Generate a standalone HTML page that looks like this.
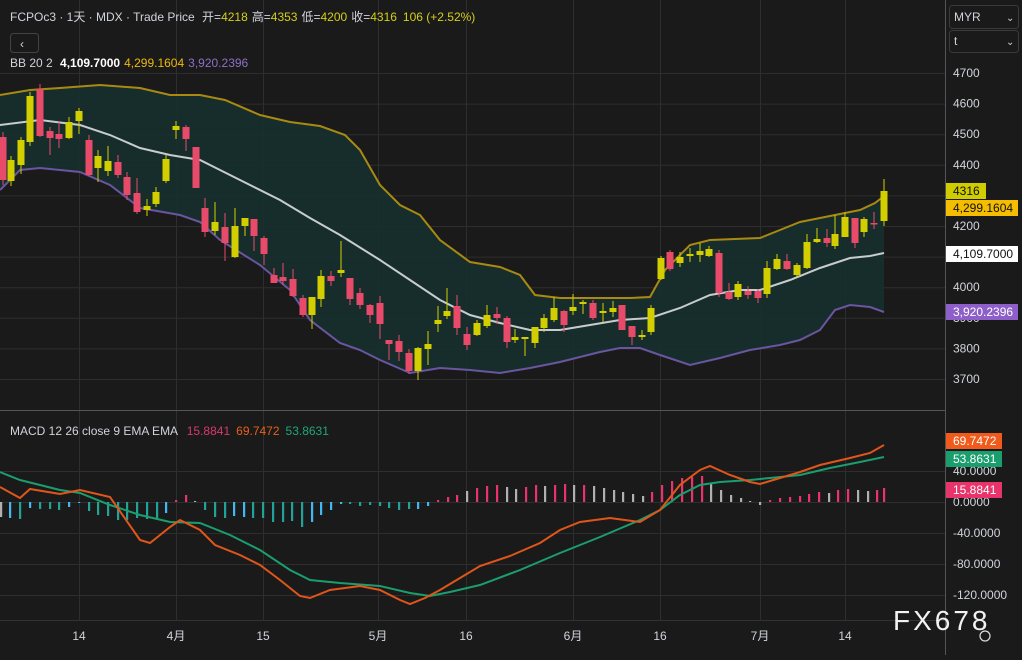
<!DOCTYPE html>
<html><head><meta charset="utf-8"><style>
body{margin:0;background:#1a1a1a;width:1022px;height:655px;overflow:hidden;font-family:"Liberation Sans","Noto Sans CJK SC",sans-serif}
svg text{font-family:"Liberation Sans","Noto Sans CJK SC",sans-serif}
</style></head><body>
<svg id="s" width="1022" height="655" xmlns="http://www.w3.org/2000/svg">
<rect width="1022" height="655" fill="#1a1a1a"/>
<g id="grid" stroke="#2e2e2e" stroke-width="1"></g>
<path id="fill" fill="#17302f" opacity="0.9"/>
<g id="bands" fill="none" stroke-width="2"></g>
<g id="candles"></g>
<g id="hist"></g>
<g id="macd" fill="none" stroke-width="2"></g>
<line x1="945.5" y1="0" x2="945.5" y2="655" stroke="#555"/>
<line x1="0" y1="410.5" x2="945" y2="410.5" stroke="#555"/>
<line x1="0" y1="620.5" x2="945" y2="620.5" stroke="#333"/>
<g id="axis" font-size="12" fill="#d1d4dc"></g>
<text x="10" y="21" font-size="12" fill="#d1d4dc">FCPOc3 · 1天 · MDX · Trade Price <tspan dx="4">开=</tspan><tspan fill="#d4cf1c">4218</tspan><tspan dx="4">高=</tspan><tspan fill="#d4cf1c">4353</tspan><tspan dx="4">低=</tspan><tspan fill="#d4cf1c">4200</tspan><tspan dx="4">收=</tspan><tspan fill="#d4cf1c">4316</tspan><tspan dx="6" fill="#d4cf1c">106 (+2.52%)</tspan></text>
<rect x="10.5" y="33.5" width="28" height="19" rx="3" fill="#1a1a1a" stroke="#444"/>
<text x="20" y="48" font-size="12" fill="#d1d4dc">‹</text>
<text x="10" y="67" font-size="12" fill="#d1d4dc">BB 20 2 <tspan dx="4" fill="#fff" font-weight="bold">4,109.7000</tspan><tspan dx="4" fill="#f0b90b">4,299.1604</tspan><tspan dx="4" fill="#8e6fc8">3,920.2396</tspan></text>
<text x="10" y="435" font-size="12" fill="#d1d4dc">MACD 12 26 close 9 EMA EMA <tspan dx="6" fill="#d83a6a">15.8841</tspan><tspan dx="6" fill="#e8601c">69.7472</tspan><tspan dx="6" fill="#1fa67a">53.8631</tspan></text>
<rect x="949.5" y="5.5" width="69" height="23" rx="3" fill="#1a1a1a" stroke="#3a3a3a"/>
<text x="954" y="21" font-size="12" fill="#d1d4dc">MYR</text><text x="1006" y="21" font-size="10" fill="#d1d4dc">⌄</text>
<rect x="949.5" y="30.5" width="69" height="22" rx="3" fill="#1a1a1a" stroke="#3a3a3a"/>
<text x="954" y="45" font-size="12" fill="#d1d4dc">t</text><text x="1006" y="45" font-size="10" fill="#d1d4dc">⌄</text>
<text x="893" y="630" font-size="28" fill="#f2f2f2" letter-spacing="3">FX678</text>
<circle cx="985" cy="636" r="5" fill="none" stroke="#ddd" stroke-width="1.2"/>
</svg>
<script>
const NS="http://www.w3.org/2000/svg";
function el(p,t,a,txt){const e=document.createElementNS(NS,t);for(const k in a)e.setAttribute(k,a[k]);if(txt!=null)e.textContent=txt;document.getElementById(p).appendChild(e);return e;}
const py=p=>73+(4700-p)*0.306;
// grid
for(let p=3700;p<=4700;p+=100)el('grid','line',{x1:0,x2:945,y1:py(p)+.5,y2:py(p)+.5});
[471,502,533,564,595].forEach(y=>el('grid','line',{x1:0,x2:945,y1:y+.5,y2:y+.5}));
const tx=[[79,"14"],[176,"4月"],[263,"15"],[378,"5月"],[466,"16"],[573,"6月"],[660,"16"],[760,"7月"],[845,"14"]];
tx.forEach(([x,t])=>{el('grid','line',{x1:x+.5,x2:x+.5,y1:0,y2:620});el('axis','text',{x:x,y:640,'text-anchor':'middle'},t);});
// axis labels
[4700,4600,4500,4400,4200,4000,3900,3800,3700].forEach(p=>el('axis','text',{x:953,y:py(p)+4},String(p)));
[[471,"40.0000"],[502,"0.0000"],[533,"-40.0000"],[564,"-80.0000"],[595,"-120.0000"]].forEach(([y,t])=>el('axis','text',{x:953,y:y+4},t));
function tag(y,w,bg,fg,t){el('axis','rect',{x:946,y:y,width:w,height:16,fill:bg});el('axis','text',{x:953,y:y+12,fill:fg},t);}
tag(183,40,"#cfcc00","#111","4316");
tag(200,72,"#f5bd00","#111","4,299.1604");
tag(246,72,"#ffffff","#111","4,109.7000");
tag(304,72,"#8e5fc8","#fff","3,920.2396");
tag(433,56,"#f05a1a","#fff","69.7472");
tag(451,56,"#1a9e6e","#fff","53.8631");
tag(482,56,"#e8336b","#fff","15.8841");
// bands
const up=[[0,95],[30,90],[60,88],[100,85],[140,88],[170,95],[200,95],[225,100],[260,115],[290,122],[320,126],[345,135],[360,150],[380,185],[400,205],[420,215],[440,240],[470,262],[500,267],[520,275],[535,295],[560,298],[600,298],[630,298],[650,297],[665,270],[690,245],[710,240],[760,238],[780,230],[800,222],[830,216],[860,210],[875,203],[884,196]];
const mid=[[0,125],[40,120],[80,125],[110,135],[140,148],[170,155],[200,160],[220,170],[250,185],[280,200],[310,218],[340,235],[380,260],[410,280],[440,300],[470,315],[500,323],[530,330],[560,330],[590,325],[620,320],[650,318],[680,308],[710,295],[740,290],[760,290],[790,280],[820,268],[850,258],[870,256],[884,253]];
const lo=[[0,190],[20,170],[40,168],[80,172],[110,185],[140,208],[180,215],[200,222],[220,240],[260,265],[290,290],[310,320],[340,343],[360,350],[380,360],[410,373],[440,368],[470,370],[500,373],[530,368],[560,362],[600,352],[620,348],[640,348],[660,355],[690,365],[720,358],[750,350],[780,345],[800,340],[820,330],[835,310],[850,305],[870,307],[884,312]];
const pts=a=>a.map(p=>p.join(',')).join(' ');
document.getElementById('fill').setAttribute('d','M'+pts(up)+' L'+pts(lo.slice().reverse())+'Z');
el('bands','polyline',{points:pts(up),stroke:"#a88a12"});
el('bands','polyline',{points:pts(mid),stroke:"#c8cccc"});
el('bands','polyline',{points:pts(lo),stroke:"#6a55a0"});
// candles [x,U/D,bt,bb,wt,wb]
const C=[[3,'D',137,180,132,185],[11,'U',160,181,156,186],[21,'U',140,165,137,174],[30,'U',96,142,92,146],[40,'D',89,136,84,137],[50,'D',131,138,127,155],[59,'D',134,139,121,148],[69,'U',122,138,117,139],[79,'U',111,121,108,134],[89,'D',140,175,135,176],[98,'U',156,168,150,182],[108,'U',161,171,146,176],[118,'D',162,175,155,178],[127,'D',177,195,172,200],[137,'D',193,212,178,214],[147,'U',206,210,199,216],[156,'U',192,204,187,207],[166,'U',159,181,155,183],[176,'U',126,130,121,139],[186,'D',127,139,125,151],[196,'D',147,188,147,188],[205,'D',208,232,198,237],[215,'U',222,231,202,235],[225,'D',227,243,213,261],[235,'U',226,257,208,258],[245,'U',218,226,218,236],[254,'D',219,236,219,251],[264,'D',238,254,236,265],[274,'D',275,283,268,283],[283,'D',277,281,263,285],[293,'D',279,296,269,297],[303,'D',298,315,295,317],[312,'U',297,315,297,329],[321,'U',276,299,270,307],[331,'D',276,281,271,286],[341,'U',270,273,241,277],[350,'D',278,299,278,305],[360,'D',293,305,288,309],[370,'D',305,315,304,323],[380,'D',303,324,296,339],[389,'D',340,344,340,360],[399,'D',341,352,335,361],[409,'D',353,371,349,374],[418,'U',348,371,347,380],[428,'U',344,349,331,365],[438,'U',320,324,306,332],[447,'U',311,316,288,319],[457,'D',306,328,295,335],[467,'D',334,345,327,350],[477,'U',323,335,320,336],[487,'U',315,326,305,328],[497,'D',314,318,307,324],[507,'D',318,342,316,348],[515,'U',337,340,329,343],[525,'U',337,339,338,356],[535,'U',327,343,327,348],[544,'U',318,328,314,332],[554,'U',308,320,297,322],[564,'D',311,325,310,332],[573,'U',307,311,294,315],[583,'U',302,304,300,314],[593,'D',303,318,300,320],[603,'U',311,313,303,322],[613,'U',308,312,301,317],[622,'D',305,330,305,330],[632,'D',326,337,326,345],[642,'U',335,337,330,340],[651,'U',308,332,305,335],[661,'U',258,279,256,280],[670,'D',252,269,250,271],[680,'U',257,263,252,267],[690,'U',254,256,248,262],[700,'U',251,255,243,262],[709,'U',249,256,246,257],[719,'D',253,293,250,297],[729,'D',292,299,283,300],[738,'U',284,297,281,300],[748,'D',291,295,286,299],[758,'D',291,298,289,303],[767,'U',268,294,261,298],[777,'U',259,269,254,270],[787,'D',261,269,254,270],[797,'U',265,275,263,277],[807,'U',242,268,234,269],[817,'U',239,242,228,243],[827,'D',238,243,229,247],[835,'U',234,246,215,249],[845,'U',217,237,212,237],[855,'D',218,243,218,248],[864,'U',219,232,217,237],[874,'D',223,224,212,229],[884,'U',191,221,179,226]];
C.forEach(([x,t,bt,bb,wt,wb])=>{const c=t=='U'?"#d2ce00":"#e84a6a";
el('candles','line',{x1:x,x2:x,y1:wt,y2:wb,stroke:c,'stroke-width':1});
el('candles','rect',{x:x-3.5,y:bt,width:7,height:Math.max(1.5,bb-bt),fill:c});});
// histogram: [x,y_end,color]
const T="#22a39a",B="#42b8f0",R="#e8336b",G="#b0b0b0";
const H=[[1,517,G],[10,518,B],[20,519,T],[30,508,B],[40,509,T],[50,509,T],[59,510,T],[69,507,B],[79,503,B],[89,511,T],[98,515,T],[108,516,T],[118,520,T],[127,520,T],[137,518,T],[147,519,T],[157,520,T],[166,513,B],[176,500,R],[186,495,R],[195,501,G],[205,510,T],[215,517,T],[225,518,T],[234,516,B],[244,517,B],[253,518,T],[263,518,T],[273,522,T],[283,522,T],[292,521,T],[302,527,T],[312,522,B],[321,515,B],[331,510,B],[341,504,B],[350,504,T],[360,506,T],[370,505,T],[380,506,T],[389,508,T],[399,510,T],[409,509,T],[418,509,B],[428,506,B],[438,500,R],[448,497,R],[457,495,R],[467,491,G],[477,488,R],[487,486,R],[497,485,R],[507,487,G],[516,489,G],[526,487,R],[536,485,R],[545,486,G],[555,485,R],[565,484,R],[574,485,G],[584,485,R],[594,486,G],[604,488,G],[614,490,G],[623,492,G],[633,494,G],[643,496,G],[652,492,R],[662,485,R],[672,481,R],[682,478,R],[692,477,R],[702,476,R],[711,483,G],[721,490,G],[731,495,G],[741,498,G],[750,501,G],[760,505,G],[770,500,R],[780,498,R],[790,497,R],[800,496,R],[809,494,R],[819,492,R],[829,493,G],[838,490,R],[848,489,R],[858,490,G],[868,491,G],[877,490,R],[884,488,R]];
H.forEach(([x,y,c])=>{const a=Math.min(y,502),b=Math.max(y,502);el('hist','rect',{x:x-1,y:a,width:2.2,height:Math.max(1,b-a),fill:c});});
const sig=[[0,472],[20,480],[40,485],[60,490],[80,493],[110,505],[140,515],[170,522],[200,523],[230,535],[260,550],[290,570],[310,580],[340,583],[380,586],[410,593],[430,596],[450,592],[480,585],[520,570],[560,553],[600,537],[640,520],[660,510],[680,495],[700,485],[720,482],[750,480],[770,478],[800,475],[830,468],[860,462],[884,457]];
const mac=[[0,487],[20,498],[30,489],[60,494],[80,490],[110,497],[140,540],[150,543],[170,527],[180,520],[200,530],[215,545],[240,555],[260,565],[280,580],[300,596],[310,598],[330,590],[360,586],[380,590],[400,600],[410,604],[425,598],[440,590],[460,578],[480,566],[510,556],[540,543],[560,530],[580,522],[610,518],[640,522],[660,510],[680,485],[700,470],[710,466],[730,475],[750,482],[760,484],[780,478],[800,472],[820,465],[850,458],[870,453],[884,445]];
el('macd','polyline',{points:pts(sig),stroke:"#1a9e6e"});
el('macd','polyline',{points:pts(mac),stroke:"#e0561a"});
</script>
</body></html>
